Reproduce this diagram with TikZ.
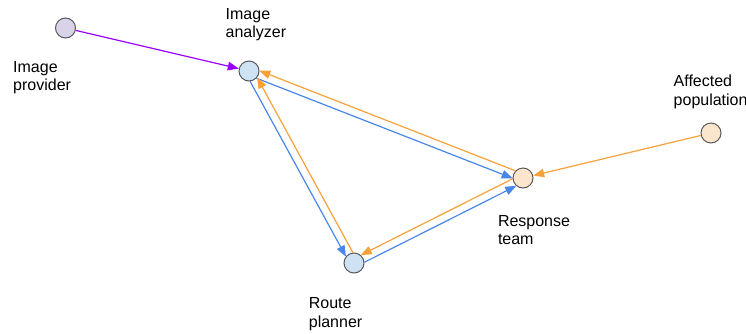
\documentclass[tikz,border=0pt]{standalone}
\usepackage{fontspec}
\setmainfont{Liberation Sans}
\usepackage{xcolor}
\usetikzlibrary{positioning,arrows.meta,calc}
\definecolor{purpleline}{HTML}{9900FF}
\definecolor{blueline}{HTML}{4A86E8}
\definecolor{orangeline}{HTML}{F6A23A}
\definecolor{ringgray}{HTML}{595959}
\definecolor{provfill}{HTML}{D9D2E9}
\definecolor{toolfill}{HTML}{CFE2F3}
\definecolor{teamfill}{HTML}{FCE5CD}

\begin{document}
\begin{tikzpicture}[x=1pt,y=-1pt,
	dot/.style={circle,draw=ringgray,line width=1pt,minimum size=20pt,inner sep=0pt},
	lbl/.style={anchor=base west,inner sep=0pt,align=left,font=\fontsize{16}{18.8}\selectfont},
	wire/.style={line width=1.2pt,-{Triangle[length=11pt,width=8.5pt]}}]
	\newcommand\Wire[3]{\draw[wire,#1,shorten <=9.5pt,shorten >=9.5pt] ($(#2)!4pt!-90:(#3)$) -- ($(#3)!4pt!90:(#2)$);}

	\useasboundingbox (0,0) rectangle (746,333);

	\node[dot,fill=provfill] (prov) at (65.5,28) {};
	\node[dot,fill=toolfill] (anlz) at (249,71) {};
	\node[dot,fill=toolfill] (plan) at (354,263) {};
	\node[dot,fill=teamfill] (team) at (523,178) {};
	\node[dot,fill=teamfill] (popl) at (711,133) {};

	% base of the last line
	\node[lbl] (provtxt) at (13,90.8) {Image\\provider};
	\node[lbl] (anlztxt) at (225.5,37.8) {Image\\analyzer};
	\node[lbl] (plantxt) at (308.7,327.1) {Route\\planner};
	\node[lbl] (teamtxt) at (497.8,244.8) {Response\\team};
	\node[lbl] (popltxt) at (673.5,105.5) {Affected\\population};

	\draw[wire,purpleline] (prov) -- (anlz);
	\draw[wire,orangeline] (popl) -- (team);

	\Wire{blueline}{anlz}{team}
	\Wire{orangeline}{team}{anlz}
	\Wire{blueline}{anlz}{plan}
	\Wire{orangeline}{plan}{anlz}
	\Wire{blueline}{plan}{team}
	\Wire{orangeline}{team}{plan}
\end{tikzpicture}
\end{document}
